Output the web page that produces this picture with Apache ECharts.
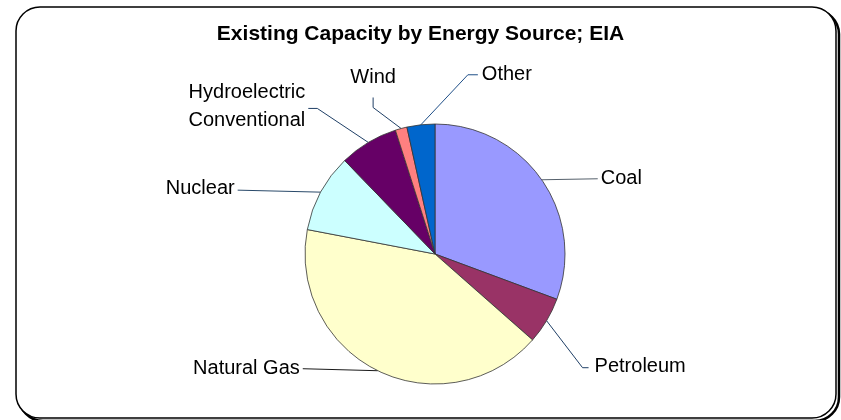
<!DOCTYPE html>
<html>
<head>
<meta charset="utf-8">
<script src="https://cdn.jsdelivr.net/npm/echarts@6/dist/echarts.min.js"></script>
<style>
html,body{margin:0;padding:0;background:#fff;}
#c{width:841px;height:420px;}
</style>
</head>
<body>
<div id="c"></div>
<script>
// ---- data (GW) ----
const categories = ['Coal', 'Petroleum', 'Natural Gas', 'Nuclear', 'Hydroelectric Conventional', 'Wind', 'Other'];
const capacity = [336, 64, 455, 107, 80, 16, 38];
const title = 'Existing Capacity by Energy Source; EIA';

// ---- styles ----
const colors = ['#9999FF', '#993366', '#FFFFCC', '#CCFFFF', '#660066', '#FF8080', '#0066CC'];
const lineColors = ['#55606b', '#1f3f66', '#1a1a1a', '#2a4a6a', '#1f3f66', '#1f3f66', '#1f4f88'];
// leader-line shape relative to slice edge point: [bend points..., text anchor, align, vAlign]
const leader = [
  {pts: [[56, -1]], txt: [59, -1], align: 'left', va: 'middle'},
  {pts: [[36, 47], [42, 47]], txt: [48, 46], align: 'left', va: 'middle'},
  {pts: [[-75, -2]], txt: [-78, -2], align: 'right', va: 'middle'},
  {pts: [[-83, -2]], txt: [-86, -4], align: 'right', va: 'middle'},
  {pts: [[-51, -34], [-60, -34]], txt: [-63, -36], align: 'right', va: 'middle'},
  {pts: [[-28, -21], [-28, -31]], txt: [-28, -51], align: 'center', va: 'middle'},
  {pts: [[47, -50], [57, -50]], txt: [61, -50], align: 'left', va: 'middle'}
];

const chart = echarts.init(document.getElementById('c'), null, {renderer: 'canvas'});
chart.setOption({
  animation: false,
  backgroundColor: '#fff',
  graphic: [
    {type: 'rect', z: -10, shape: {x: 19, y: 10, width: 820, height: 411, r: 24},
     style: {fill: 'none', stroke: '#000', lineWidth: 2.5}},
    {type: 'rect', z: -9, shape: {x: 16, y: 7, width: 820, height: 411, r: 24},
     style: {fill: '#fff', stroke: '#000', lineWidth: 1.5}}
  ],
  title: {
    text: title,
    left: 'center',
    top: 19,
    textStyle: {fontFamily: 'Liberation Sans, Arial, sans-serif', fontSize: 21, fontWeight: 'bold', color: '#000'}
  },
  series: [{
    type: 'pie',
    center: [435, 254],
    radius: 130,
    startAngle: 90,
    clockwise: true,
    avoidLabelOverlap: false,
    data: categories.map((n, i) => ({
      name: n, value: capacity[i],
      itemStyle: {color: colors[i]},
      labelLine: {lineStyle: {color: lineColors[i]}}
    })),
    itemStyle: {borderColor: '#333', borderWidth: 0.8},
    label: {
      show: true,
      position: 'outside',
      formatter: p => p.name.replace('Hydroelectric ', 'Hydroelectric\n'),
      fontFamily: 'Liberation Sans, Arial, sans-serif',
      fontSize: 20,
      lineHeight: 28,
      color: '#000'
    },
    labelLine: {show: true, length: 10, length2: 10, smooth: false, lineStyle: {width: 1}},
    labelLayout: function (p) {
      const L = leader[p.dataIndex];
      const p0 = p.labelLinePoints[0];
      const pts = [[p0[0], p0[1]]].concat(L.pts.map(d => [p0[0] + d[0], p0[1] + d[1]]));
      return {
        x: p0[0] + L.txt[0],
        y: p0[1] + L.txt[1],
        align: L.align,
        verticalAlign: L.va,
        labelLinePoints: pts
      };
    }
  }]
});
</script>
</body>
</html>
